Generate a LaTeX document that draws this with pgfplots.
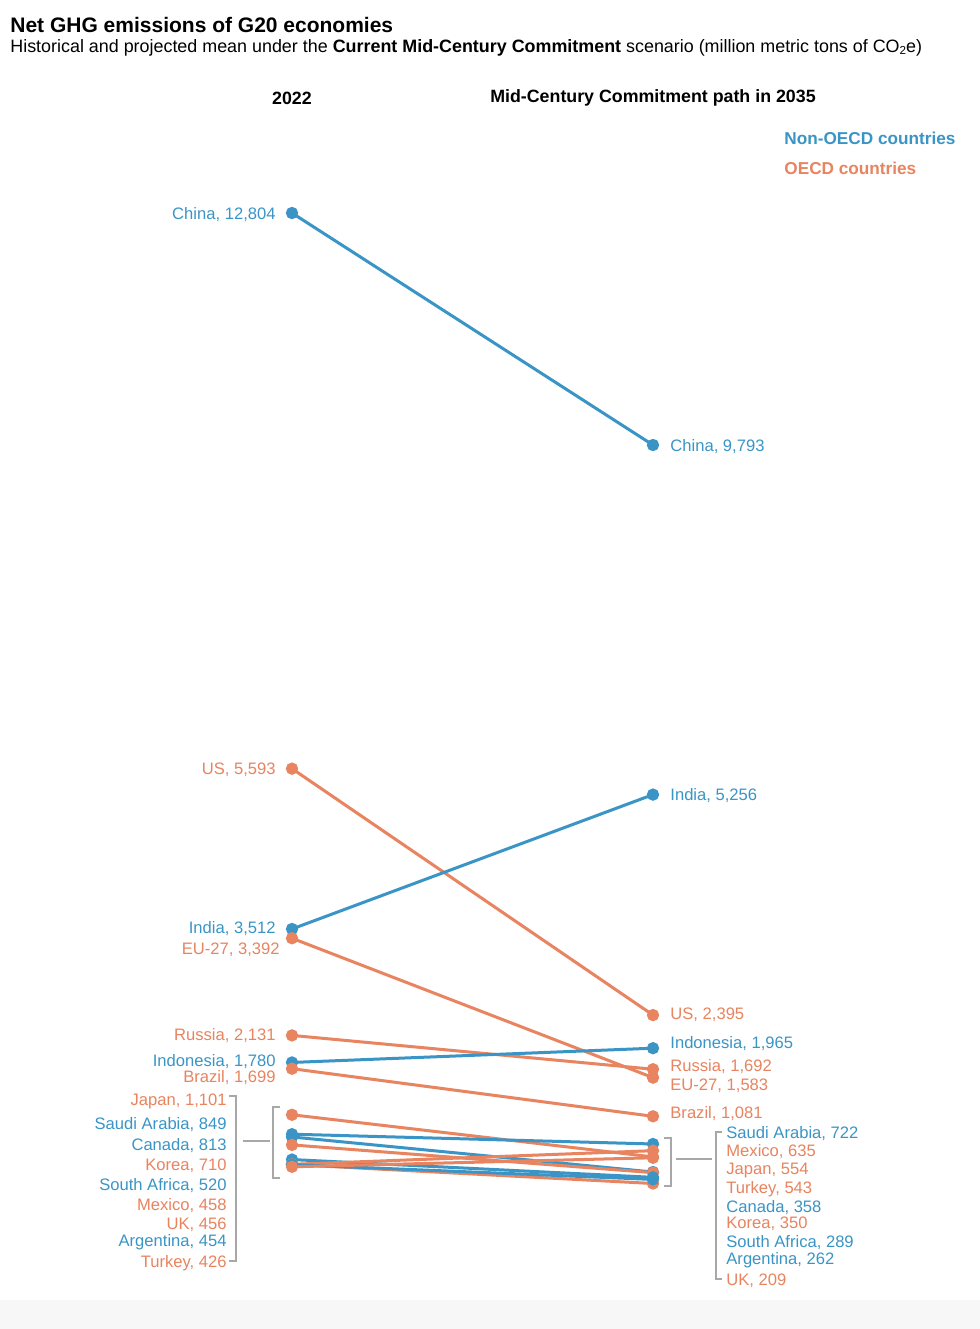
\documentclass[border=0pt]{standalone}
\usepackage{fontspec}
\setmainfont{Liberation Sans}
\usepackage{pgfplots}
\pgfplotsset{compat=1.18}
\definecolor{cblue}{HTML}{3A95C6}
\definecolor{corange}{HTML}{E8845F}
\definecolor{brk}{HTML}{A8A8A8}
\definecolor{footer}{HTML}{F7F7F7}
\newcommand{\lab}{\fontsize{8.3}{9.5}\selectfont}
\begin{document}
\begin{tikzpicture}[x=0.5pt,y=-0.5pt]
\fill[white] (0,0) rectangle (980,1329);
\fill[footer] (0,1300) rectangle (980,1329);
\begin{axis}[at={(146pt,-599.8pt)}, anchor=south west,
  scale only axis, width=180.5pt, height=493.3pt,
  xmin=0, xmax=1, ymin=0, ymax=12804, hide axis, clip=false,
  every axis plot/.append style={line width=1.5pt, mark=*, mark size=2.3pt}]
\addplot[cblue] coordinates {(0,12804) (1,9793)};
\addplot[corange] coordinates {(0,5593) (1,2395)};
\addplot[cblue] coordinates {(0,3512) (1,5256)};
\addplot[corange] coordinates {(0,3392) (1,1583)};
\addplot[corange] coordinates {(0,2131) (1,1692)};
\addplot[cblue] coordinates {(0,1780) (1,1965)};
\addplot[corange] coordinates {(0,1699) (1,1081)};
\addplot[corange] coordinates {(0,1101) (1,554)};
\addplot[cblue] coordinates {(0,849) (1,722)};
\addplot[cblue] coordinates {(0,813) (1,358)};
\addplot[corange] coordinates {(0,710) (1,350)};
\addplot[cblue] coordinates {(0,520) (1,289)};
\addplot[corange] coordinates {(0,458) (1,635)};
\addplot[corange] coordinates {(0,456) (1,209)};
\addplot[cblue] coordinates {(0,454) (1,262)};
\addplot[corange] coordinates {(0,426) (1,543)};
\end{axis}
% titles
\node[anchor=west, inner sep=0] at (10,25) {\fontsize{10.5}{12}\selectfont\bfseries Net GHG emissions of G20 economies};
\node[anchor=west, inner sep=0] at (10,48) {\fontsize{8.95}{10}\selectfont Historical and projected mean under the \textbf{Current Mid-Century Commitment} scenario (million metric tons of CO\raisebox{-0.15ex}{\fontsize{5.8}{6}\selectfont 2}e)};
\node[inner sep=0] at (292,98) {\fontsize{8.9}{10}\selectfont\bfseries 2022};
\node[inner sep=0] at (653,98) {\fontsize{8.9}{10}\selectfont\bfseries Mid-Century Commitment path in 2035};
\node[anchor=west, inner sep=0, text=cblue] at (784,138) {\fontsize{8.6}{10}\selectfont\bfseries Non-OECD countries};
\node[anchor=west, inner sep=0, text=corange] at (784,168) {\fontsize{8.6}{10}\selectfont\bfseries OECD countries};
% left labels
\begin{scope}[every node/.style={anchor=east, inner sep=0, font=\lab, yshift=-0.8pt}]
\node[text=cblue] at (276,213) {China, 12,804};
\node[text=corange] at (276,768) {US, 5,593};
\node[text=cblue] at (276,927) {India, 3,512};
\node[text=corange] at (280,948) {EU-27, 3,392};
\node[text=corange] at (276,1034) {Russia, 2,131};
\node[text=cblue] at (276,1060) {Indonesia, 1,780};
\node[text=corange] at (276,1076) {Brazil, 1,699};
\node[text=corange] at (227,1100) {Japan, 1,101};
\node[text=cblue] at (227,1123) {Saudi Arabia, 849};
\node[text=cblue] at (227,1144) {Canada, 813};
\node[text=corange] at (227,1164) {Korea, 710};
\node[text=cblue] at (227,1184) {South Africa, 520};
\node[text=corange] at (227,1204) {Mexico, 458};
\node[text=corange] at (227,1223) {UK, 456};
\node[text=cblue] at (227,1241) {Argentina, 454};
\node[text=corange] at (227,1262) {Turkey, 426};
\end{scope}
% right labels
\begin{scope}[every node/.style={anchor=west, inner sep=0, font=\lab, yshift=-0.8pt}]
\node[text=cblue] at (670,445) {China, 9,793};
\node[text=cblue] at (670,794) {India, 5,256};
\node[text=corange] at (670,1013) {US, 2,395};
\node[text=cblue] at (670,1042) {Indonesia, 1,965};
\node[text=corange] at (670,1065) {Russia, 1,692};
\node[text=corange] at (670,1084) {EU-27, 1,583};
\node[text=corange] at (670,1112) {Brazil, 1,081};
\node[text=cblue] at (726,1132) {Saudi Arabia, 722};
\node[text=corange] at (726,1150) {Mexico, 635};
\node[text=corange] at (726,1169) {Japan, 554};
\node[text=corange] at (726,1188) {Turkey, 543};
\node[text=cblue] at (726,1206) {Canada, 358};
\node[text=corange] at (726,1222) {Korea, 350};
\node[text=cblue] at (726,1241) {South Africa, 289};
\node[text=cblue] at (726,1259) {Argentina, 262};
\node[text=corange] at (726,1279) {UK, 209};
\end{scope}
% brackets
\begin{scope}[draw=brk, line width=0.6pt]
\draw (229,1096) -- (236,1096) -- (236,1261) -- (229,1261);
\draw (243,1141) -- (270,1141);
\draw (280,1107) -- (273,1107) -- (273,1178) -- (280,1178);
\draw (664,1138) -- (671,1138) -- (671,1186) -- (664,1186);
\draw (676,1159) -- (712,1159);
\draw (722,1132) -- (716,1132) -- (716,1279) -- (722,1279);
\end{scope}
\end{tikzpicture}
\end{document}
